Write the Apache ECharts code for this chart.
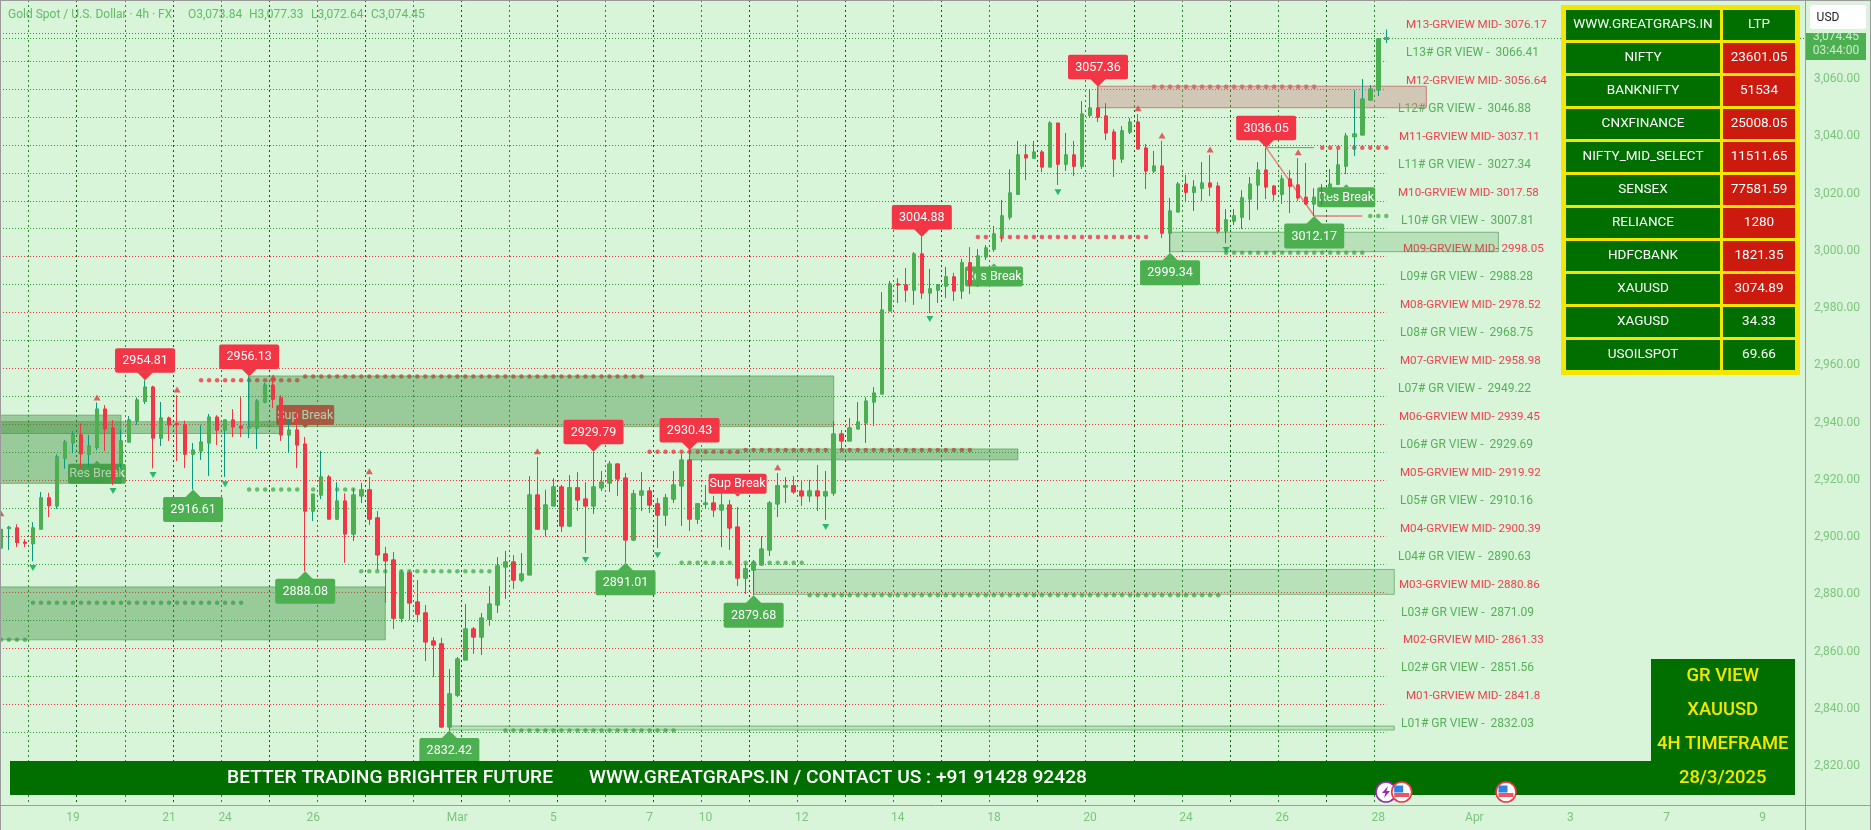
<!DOCTYPE html>
<html><head><meta charset="utf-8">
<style>html,body{margin:0;padding:0;background:#d8f5d9;overflow:hidden}#c{width:1871px;height:830px}</style>
<script src="https://cdn.jsdelivr.net/npm/echarts@6/dist/echarts.min.js"></script>
</head><body><div id="c"></div>
<script>
const candleOpen=[
2896.2,2903.1,2903.2,2898.2,2897.7,2902.8,2913.7,2910.9,2927.6,2932.9,
2935.7,2929.0,2931.4,2944.7,2938.1,2925.8,2933.2,2940.6,2947.4,2952.4,
2934.6,2941.6,2939.6,2939.2,2929.0,2930.1,2932.9,2941.9,2937.4,2940.9,
2938.8,2938.1,2938.1,2947.2,2953.1,2948.6,2935.7,2937.4,2932.5,2909.1,
2914.7,2921.0,2906.3,2912.6,2901.1,2914.4,2916.5,2906.7,2894.1,2892.0,
2871.7,2887.5,2877.3,2873.5,2863.7,2862.7,2833.7,2844.8,2857.1,2867.9,
2865.1,2871.3,2876.3,2889.6,2891.3,2885.0,2886.8,2914.7,2902.8,2910.9,
2917.5,2903.9,2917.2,2913.3,2910.9,2917.2,2918.9,2925.5,2920.6,2899.0,
2914.7,2916.1,2911.6,2907.7,2913.3,2917.9,2926.9,2906.3,2911.5,2911.9,
2909.5,2911.2,2903.5,2885.7,2888.5,2890.3,2895.5,2911.6,2917.5,2917.9,
2916.1,2914.4,2916.1,2914.4,2915.4,2936.0,2933.6,2937.8,2939.9,2947.2,
2950.0,2979.0,2988.4,2988.1,2986.3,2998.9,2985.3,2986.3,2987.7,2990.9,
2986.0,2995.8,2988.1,2997.9,3000.6,3005.5,3011.8,3019.8,3033.5,3032.4,
3034.5,3029.3,3044.6,3030.3,3033.5,3029.6,3047.4,3049.9,3047.1,3041.5,
3032.1,3041.5,3045.0,3035.9,3027.9,3029.6,3006.2,3013.6,3023.3,3020.5,
3021.9,3023.7,3022.6,3006.9,3010.4,3011.8,3018.1,3023.0,3028.2,3022.6,
3019.8,3025.1,3023.0,3018.7,3016.4,3018.3,3019.5,3023.3,3029.6,3039.9,
3040.5,3052.7,3056.2,3073.84];
const candleClose=[
2902.7,2903.4,2898.1,2897.9,2903.2,2913.7,2911.0,2928.0,2933.2,2935.7,
2929.1,2931.8,2944.7,2937.8,2920.3,2933.6,2940.9,2947.9,2952.4,2934.6,
2941.6,2939.2,2939.3,2929.0,2930.4,2933.2,2941.9,2937.4,2940.9,2938.5,
2938.1,2938.5,2947.5,2953.1,2948.2,2935.7,2937.4,2932.2,2909.1,2915.0,
2921.0,2906.3,2912.6,2901.1,2914.7,2916.5,2906.3,2893.8,2891.7,2871.7,
2887.5,2877.0,2873.1,2863.4,2862.3,2833.7,2845.2,2857.4,2867.9,2865.1,
2871.7,2876.6,2889.9,2891.3,2885.0,2887.1,2914.7,2902.8,2911.2,2917.5,
2903.9,2917.2,2913.0,2910.9,2917.5,2919.2,2925.5,2920.3,2899.0,2915.1,
2916.1,2911.2,2907.7,2913.7,2918.2,2926.9,2906.3,2911.6,2911.9,2909.5,
2911.2,2903.2,2885.7,2888.9,2891.0,2895.8,2911.9,2917.9,2917.9,2915.8,
2914.4,2916.1,2914.4,2915.8,2936.0,2933.6,2938.1,2940.2,2947.5,2950.3,
2979.3,2988.4,2988.1,2986.3,2998.9,2985.3,2986.7,2988.1,2990.9,2986.0,
2995.8,2988.1,2998.2,3001.0,3005.9,3012.2,3020.2,3033.5,3032.5,3034.5,
3029.3,3044.6,3030.3,3033.5,3029.6,3047.8,3049.9,3046.7,3041.2,3032.1,
3041.9,3045.0,3035.6,3027.9,3029.6,3006.2,3013.9,3023.3,3020.5,3022.3,
3023.7,3022.3,3006.9,3010.8,3012.2,3018.5,3023.3,3028.2,3022.3,3019.8,
3025.1,3022.6,3018.5,3016.4,3018.7,3019.8,3023.3,3030.0,3040.1,3040.8,
3053.0,3056.5,3074.0,3074.45];
const candleLow=[
2895.4,2895.5,2896.5,2896.5,2891.6,2902.8,2907.0,2909.9,2923.9,2929.3,
2924.0,2924.6,2930.4,2930.1,2918.2,2924.0,2933.2,2939.2,2946.5,2924.0,
2931.8,2933.6,2926.6,2924.1,2916.61,2926.9,2921.3,2932.2,2921.0,2935.0,
2935.0,2934.6,2930.8,2946.8,2945.1,2933.6,2929.4,2924.1,2888.08,2905.6,
2913.3,2906.3,2906.0,2891.0,2898.6,2911.9,2904.2,2888.5,2877.0,2867.9,
2870.3,2871.0,2870.3,2856.7,2851.1,2833.3,2832.42,2844.1,2857.1,2859.2,
2858.8,2869.0,2873.5,2878.4,2881.9,2884.3,2886.8,2902.8,2900.2,2910.9,
2901.8,2903.5,2909.1,2894.4,2908.1,2916.1,2915.8,2914.4,2891.01,2898.6,
2909.1,2908.4,2896.2,2903.9,2911.9,2903.9,2902.1,2904.6,2909.8,2907.0,
2896.5,2895.5,2882.9,2880.1,2879.68,2889.9,2893.4,2907.0,2911.9,2915.1,
2910.9,2912.3,2909.1,2906.0,2914.4,2930.4,2933.6,2937.8,2932.9,2938.8,
2950.0,2979.0,2981.8,2982.1,2981.1,2983.2,2978.3,2981.8,2983.5,2982.5,
2983.2,2984.9,2987.4,2996.8,2999.6,3003.1,3010.8,3019.8,3024.7,3032.4,
3027.5,3029.3,3023.0,3027.9,3026.1,3028.6,3046.7,3045.0,3038.7,3025.8,
3030.7,3040.8,3035.6,3021.6,3027.2,3004.5,2999.34,3013.6,3017.0,3013.9,
3017.4,3019.1,3005.9,3002.7,3009.0,3007.6,3010.8,3014.3,3018.1,3017.4,
3016.4,3013.2,3017.4,3016.0,3012.17,3016.0,3019.5,3023.3,3026.8,3033.1,
3040.5,3052.7,3054.1,3072.64];
const candleHigh=[
2903.5,2903.9,2904.5,2899.3,2905.2,2915.8,2915.5,2928.9,2933.9,2937.1,
2939.7,2935.7,2947.0,2946.1,2940.9,2937.4,2942.3,2948.8,2954.81,2952.9,
2947.2,2942.1,2949.6,2940.7,2932.9,2939.2,2943.0,2942.6,2941.0,2944.7,
2948.9,2956.13,2948.2,2953.9,2954.9,2949.6,2940.9,2944.4,2935.0,2915.0,
2930.1,2921.7,2919.2,2915.3,2917.0,2919.0,2921.0,2909.1,2896.6,2894.8,
2888.5,2888.5,2885.0,2876.3,2865.1,2864.8,2853.9,2858.1,2876.6,2868.6,
2873.5,2882.9,2893.0,2895.2,2893.7,2894.4,2921.3,2928.0,2916.5,2920.6,
2918.2,2921.7,2922.7,2919.2,2929.79,2923.1,2926.6,2925.8,2922.4,2916.5,
2922.7,2917.5,2913.7,2915.1,2923.1,2929.0,2930.43,2911.9,2918.2,2914.4,
2915.3,2913.0,2910.5,2890.6,2892.0,2900.4,2912.6,2922.4,2921.0,2921.3,
2919.6,2920.0,2925.2,2923.1,2940.6,2937.4,2941.6,2947.2,2948.9,2952.4,
2985.6,2989.5,2990.5,2994.0,2999.6,3004.88,2993.7,2988.4,2994.4,2992.3,
2997.2,3001.3,3000.6,3002.0,3008.7,3017.8,3028.5,3038.4,3037.2,3038.4,
3035.2,3045.3,3044.6,3041.2,3038.4,3052.3,3056.5,3057.36,3051.6,3042.5,
3043.6,3046.4,3047.8,3037.3,3034.9,3038.4,3018.5,3024.0,3026.5,3024.7,
3031.0,3033.5,3024.0,3014.6,3014.6,3021.2,3025.8,3031.0,3036.05,3023.0,
3026.5,3028.2,3032.4,3030.7,3021.9,3023.3,3028.5,3035.4,3041.2,3056.2,
3060.0,3057.9,3074.3,3077.33];

const slotCount=226;
const xTickSlots=[9,21,28,39,57,69,81,88,100,112,124,136,148,160,172,184,196,208,220];
const xTickLabels=['19','21','24','26','Mar','5','7','10','12','14','18','20','24','26','28','Apr','3','7','9'];
const yTickValues=[2820,2840,2860,2880,2900,2920,2940,2960,2980,3000,3020,3040,3060];
const dayGridSlots=[4,10,16,22,28,34,40,46,52,58,64,70,76,82,88,94,100,106,112,118,124,130,136,142,148,154,160,166,172];

const levelNames=['M13-GRVIEW MID- ','L13# GR VIEW -  ','M12-GRVIEW MID- ','L12# GR VIEW -  ','M11-GRVIEW MID- ','L11# GR VIEW -  ','M10-GRVIEW MID- ','L10# GR VIEW -  ','M09-GRVIEW MID- ','L09# GR VIEW -  ','M08-GRVIEW MID- ','L08# GR VIEW -  ','M07-GRVIEW MID- ','L07# GR VIEW -  ','M06-GRVIEW MID- ','L06# GR VIEW -  ','M05-GRVIEW MID- ','L05# GR VIEW -  ','M04-GRVIEW MID- ','L04# GR VIEW -  ','M03-GRVIEW MID- ','L03# GR VIEW -  ','M02-GRVIEW MID- ','L02# GR VIEW -  ','M01-GRVIEW MID- ','L01# GR VIEW -  '];
const levelValues=[3076.17,3066.41,3056.64,3046.88,3037.11,3027.34,3017.58,3007.81,2998.05,2988.28,2978.52,2968.75,2958.98,2949.22,2939.45,2929.69,2919.92,2910.16,2900.39,2890.63,2880.86,2871.09,2861.33,2851.56,2841.8,2832.03];
const levelTextLeft=[1406,1406,1406,1398,1399,1398,1398,1401,1403,1400,1400,1400,1400,1398,1399,1400,1400,1400,1400,1398,1399,1401,1403,1401,1406,1401];

const zoneFrom=[0,0,31,0,86,94,137,146,56];
const zoneTo=[15,35,104,48,127,174,178,187,174];
const zoneTop=[2942.6,2940.3,2956.3,2882.6,2930.8,2888.7,3057.5,3006.5,2834.0];
const zoneBottom=[2918.8,2936.2,2938.6,2864.1,2927.0,2880.0,3050.0,2999.7,2832.6];
const zoneKind=['dark','dark','dark','dark','dark','light','tan','light','light'];

const redDotFrom=[25,38,81,93,122,144,165];
const redDotTo=[37,80,92,121,143,164,173];
const redDotValue=[2954.81,2956.13,2929.79,2930.43,3004.88,3057.36,3036.05];
const greenDotFrom=[0,4,31,45,63,85,101,153,171];
const greenDotTo=[3,30,44,62,84,100,152,170,173];
const greenDotValue=[2864.1,2877.1,2916.61,2888.08,2832.42,2891.01,2879.68,2999.34,3012.17];

const upMarkSlot=[0,12,22,34,46,67,97,142,145,151,162];
const upMarkValue=[2908.3,2948.8,2951.6,2955.8,2923.0,2930.0,2924.4,3049.8,3040.3,3035.4,3034.4];
const downMarkSlot=[4,14,19,28,73,82,103,116,132,153];
const downMarkValue=[2889.2,2916.1,2921.7,2918.5,2892.0,2893.7,2903.5,2976.2,3020.5,3000.3];

const peakSlot=[18,31,74,86,115,137,158];
const peakValue=[2954.81,2956.13,2929.79,2930.43,3004.88,3057.36,3036.05];
const troughSlot=[24,38,56,78,94,146,164];
const troughValue=[2916.61,2888.08,2832.42,2891.01,2879.68,2999.34,3012.17];

const breakSlot=[12,38,124,168];
const breakValue=[2926.7,2938.1,2995.6,3023.3];
const breakText=['Res Break','Sup Break','Res Break','Res Break'];
const topBreakSlot=[92];
const topBreakValue=[2914.1];
const topBreakText=['Sup Break'];

const tableNames=['NIFTY','BANKNIFTY','CNXFINANCE','NIFTY_MID_SELECT','SENSEX','RELIANCE','HDFCBANK','XAUUSD','XAGUSD','USOILSPOT'];
const tableValues=['23601.05','51534','25008.05','11511.65','77581.59','1280','1821.35','3074.89','34.33','69.66'];
const tableRed=[1,1,1,1,1,1,1,1,0,0];
const gvLines=['GR VIEW','XAUUSD','4H TIMEFRAME','28/3/2025'];

const BG='#d8f5d9',UP='#4caf50',DOWN='#f23645',WICK='#089981',DG='#006f00',YEL='#f5e600',FONT='Roboto, sans-serif',AX='#7cc47c';
const ohlc=candleOpen.map((o,i)=>[o,candleClose[i],candleLow[i],candleHigh[i]]);
const bodies=candleOpen.map((o,i)=>{const c=candleClose[i];return [o,c,Math.min(o,c),Math.max(o,c)];});
const expand=(f,t,v)=>f.flatMap((a,k)=>{const r=[];for(let s=a;s<=t[k];s++)r.push([s,v[k]]);return r;});
const snap=v=>Math.round(v)+.5;

function dayRender(p,api){
  const c=api.coord([api.value(0),0]);
  const x=snap(c[0]-api.size([1,0])[0]/2-.5);
  const g=p.coordSys;
  return {type:'line',shape:{x1:x,y1:g.y,x2:x,y2:g.y+g.height},style:{stroke:p.dataIndex%2?'#0b5e0b':'#2a8a2a',lineWidth:1,lineDash:[2,3]}};
}
function lineRender(p,api){
  const v=api.value(1),a=api.coord([0,v]),b=api.coord([173,v]);
  const y=snap(a[1]);
  const red=levelNames[p.dataIndex][0]==='M';
  return {type:'group',children:[
   {type:'line',shape:{x1:0,y1:y,x2:b[0],y2:y},style:{stroke:red?'#f23645':'#2f9e35',lineWidth:1,lineDash:[1,2]}},
   {type:'text',style:{text:levelNames[p.dataIndex]+v,x:levelTextLeft[p.dataIndex],y:a[1]-7.3,fill:red?'#f0404e':'#56b05a',font:(red?'11.6px ':'12px ')+FONT,align:'left',verticalAlign:'middle'}}
  ]};
}
function zoneRender(p,api){
  const a=api.coord([api.value(0),api.value(2)]),b=api.coord([api.value(1),api.value(3)]);
  const k=zoneKind[p.dataIndex];
  const fill=k==='dark'?'rgba(60,140,60,0.4)':k==='light'?'rgba(60,140,60,0.2)':'rgba(197,132,126,0.4)';
  const stroke=k==='tan'?'#c87b7b':'rgba(60,140,60,0.55)';
  const x0=api.value(0)===0?-1:a[0];
  return {type:'rect',shape:{x:x0,y:a[1],width:b[0]-x0,height:b[1]-a[1]},style:{fill,stroke,lineWidth:1}};
}
function callout(x,y,up,color,text,w,h,tip,half,gap,fs){
  const pts=up?[[x-half,y+tip],[x+half,y+tip],[x,y]]:[[x-half,y-tip],[x+half,y-tip],[x,y]];
  const by=up?y+gap:y-gap-h;
  return {type:'group',children:[
    {type:'polygon',shape:{points:pts},style:{fill:color}},
    {type:'rect',shape:{x:x-w/2,y:by,width:w,height:h,r:2},style:{fill:color}},
    {type:'text',style:{text,x,y:by+h/2+.5,fill:'#fff',font:fs+'px '+FONT,align:'center',verticalAlign:'middle'}}
  ]};
}
function peakRender(p,api){const c=api.coord([api.value(0),api.value(1)]);return callout(c[0],c[1],false,DOWN,String(peakValue[p.dataIndex]),60,24.5,8,8,7.5,12.5);}
function troughRender(p,api){const c=api.coord([api.value(0),api.value(1)]);return callout(c[0],c[1],true,UP,String(troughValue[p.dataIndex]),60,25,8,8,7.5,12.5);}
function breakRender(p,api){const c=api.coord([api.value(0),api.value(1)]);const up=breakText[p.dataIndex][0]==='R';return callout(c[0],c[1],up,up?UP:DOWN,breakText[p.dataIndex],58,20,3,3,3,12.5);}
function topBreakRender(p,api){const c=api.coord([api.value(0),api.value(1)]);return callout(c[0],c[1],false,DOWN,topBreakText[p.dataIndex],58,20,3,3,3,12.5);}
function pathRender(p,api){
  const a=api.coord([api.value(0),api.value(1)]),b=api.coord([api.value(2),api.value(3)]);
  return {type:'line',shape:{x1:a[0],y1:a[1],x2:b[0],y2:b[1]},style:{stroke:['#4caf50','#e5434f','rgba(242,54,69,.6)'][p.dataIndex],lineWidth:p.dataIndex===2?1.5:1}};
}
function gtext(text,x,y,fill,font,align,z){return {type:'text',z:z||60,x,y,style:{text,fill,font,align:align||'center',verticalAlign:'middle'}};}
function grect(x,y,w,h,fill,z,r){return {type:'rect',z:z||60,shape:{x,y,width:w,height:h,r:r||0},style:{fill}};}
function gline(x1,y1,x2,y2,stroke){return {type:'line',z:60,shape:{x1,y1,x2,y2},style:{stroke,lineWidth:1}};}
function flag(cx,cy){return {type:'group',x:cx,y:cy,children:[
  {type:'circle',z:71,shape:{r:10},style:{fill:'#fff',stroke:'#f23645',lineWidth:1.6}},
  {type:'rect',z:72,shape:{x:-7.5,y:1,width:15,height:4},style:{fill:'#f0555f'}},
  {type:'rect',z:72,shape:{x:-7.5,y:-6.5,width:9,height:7},style:{fill:'#2d83e6'}}]};}

const graphics=[
 gline(0,.5,1871,.5,'#999'),gline(.5,0,.5,830,'#999'),gline(1870.5,0,1870.5,830,'#999'),
 gline(0,805.5,1871,805.5,'#72bb72'),gline(1805.5,0,1805.5,830,'#72bb72'),
 gtext('Gold Spot / U.S. Dollar · 4h · FX',8,15,'#62bb66','12px '+FONT,'left'),
 gtext('O3,073.84',188,15,'#62bb66','12px '+FONT,'left'),
 gtext('H3,077.33',249,15,'#62bb66','12px '+FONT,'left'),
 gtext('L3,072.64',311,15,'#62bb66','12px '+FONT,'left'),
 gtext('C3,074.45',371,15,'#62bb66','12px '+FONT,'left'),
 grect(1561,5,239,370,YEL),
 grect(1566,10,154,30,DG,61),grect(1723,10,72,30,DG,61),
 gtext('WWW.GREATGRAPS.IN',1643,24.5,'#fff','13.5px '+FONT,'center',62),
 gtext('LTP',1759,24.5,'#fff','13.5px '+FONT,'center',62),
 grect(10,761,1785,34,DG),grect(1651,659,144,136,DG),
 gtext('BETTER TRADING BRIGHTER FUTURE',390,778,'#fff','500 19.2px '+FONT),
 gtext('WWW.GREATGRAPS.IN / CONTACT US : +91 91428 92428',838,778,'#fff','500 19.2px '+FONT),
 {type:'group',x:1386,y:792,children:[
  {type:'circle',z:70,shape:{r:10},style:{fill:'#fff',stroke:'#9c27b0',lineWidth:1.6}},
  {type:'polygon',z:70,shape:{points:[[2,-6],[-4,1],[-.5,1],[-2,6],[4,-1],[.5,-1]]},style:{fill:'#9c27b0'}}]},
 flag(1401.7,792),flag(1506,792),
 grect(1806,33,60,27,UP),
 gtext('3,074.45',1836,37,'#cfeccf','12px '+FONT),
 gtext('03:44:00',1836,50.5,'#cfeccf','12px '+FONT),
 grect(1806,28,61,5,BG,61),
 {type:'rect',z:62,shape:{x:1809.5,y:4.5,width:57,height:25,r:3},style:{fill:'#fff',stroke:'#e8e8e8'}},
 gtext('USD',1828,17.5,'#222','12px '+FONT,'center',63)
];
tableNames.forEach((n,i)=>{
 const y=43+i*33;
 graphics.push(grect(1566,y,154,30,DG,61),grect(1723,y,72,30,tableRed[i]?'#cc1a0e':DG,61),
  gtext(n,1643,y+14.5,'#fff','13.5px '+FONT,'center',62),gtext(tableValues[i],1759,y+14.5,'#fff','13.5px '+FONT,'center',62));
});
gvLines.forEach((t,i)=>graphics.push(gtext(t,1722.7,676+i*34,YEL,'500 18.4px '+FONT,'center',62)));

const chart=echarts.init(document.getElementById('c'),null,{renderer:'canvas'});
chart.setOption({
 animation:false,backgroundColor:BG,
 grid:{left:.9,top:0,width:1801.8,height:805.5,containLabel:false},
 xAxis:{type:'category',data:Array.from({length:slotCount},(_,i)=>String(i)),boundaryGap:false,
  axisLine:{show:false},axisTick:{show:false},splitLine:{show:false},
  axisLabel:{interval:i=>xTickSlots.includes(i),formatter:(v,i)=>xTickLabels[xTickSlots.indexOf(i)]||'',color:AX,fontFamily:'Roboto',fontSize:12,margin:6,hideOverlap:false}},
 yAxis:{type:'value',position:'right',min:2806.24,max:3087.63,scale:true,
  axisLine:{show:false},axisTick:{show:false},splitLine:{show:false},
  axisLabel:{customValues:yTickValues,formatter:v=>v.toLocaleString('en-US',{minimumFractionDigits:2,maximumFractionDigits:2}),color:AX,fontFamily:'Roboto',fontSize:12,margin:11.3}},
 graphic:graphics,
 series:[
  {type:'custom',name:'dayGrid',z:1,clip:false,renderItem:dayRender,data:dayGridSlots.map(s=>[s,3000]),encode:{x:0,y:1}},
  {type:'custom',name:'levels',z:1,clip:false,renderItem:lineRender,data:levelValues.map(v=>[0,v]),encode:{x:0,y:1}},
  {type:'custom',name:'lastPrice',z:1,clip:false,renderItem:(p,api)=>{const a=api.coord([225,api.value(1)]);const y=snap(a[1]);return {type:'line',shape:{x1:0,y1:y,x2:1805,y2:y},style:{stroke:'#2f9e35',lineWidth:1,lineDash:[1,2]}};},data:[[0,candleClose[candleClose.length-1]]],encode:{x:0,y:1}},
  {type:'custom',name:'breaks',z:2,clip:false,renderItem:breakRender,data:breakSlot.map((s,i)=>[s,breakValue[i]]),encode:{x:0,y:1}},
  {type:'scatter',name:'redDots',z:2,clip:false,symbol:'circle',symbolSize:4.5,itemStyle:{color:'#f23645'},data:expand(redDotFrom,redDotTo,redDotValue)},
  {type:'scatter',name:'greenDots',z:2,clip:false,symbol:'circle',symbolSize:4.5,itemStyle:{color:'#4caf50'},data:expand(greenDotFrom,greenDotTo,greenDotValue)},
  {type:'custom',name:'zones',z:3,clip:false,renderItem:zoneRender,data:zoneFrom.map((f,i)=>[f,zoneTo[i],zoneTop[i],zoneBottom[i]]),encode:{x:[0,1],y:[2,3]}},
  {type:'custom',name:'pivotLines',z:3,clip:false,renderItem:pathRender,data:[[158,3036.05,164,3036.05],[164,3012.17,170,3012.17],[158,3036.05,164,3012.17]],encode:{x:[0,2],y:[1,3]}},
  {type:'candlestick',name:'wicks',z:4,clip:false,barWidth:4,itemStyle:{color:WICK,color0:DOWN,borderColor:WICK,borderColor0:DOWN,borderWidth:1},data:ohlc},
  {type:'candlestick',name:'bodies',z:5,clip:false,barWidth:4,itemStyle:{color:UP,color0:DOWN,borderColor:UP,borderColor0:DOWN,borderWidth:1},data:bodies},
  {type:'scatter',name:'upMarks',z:6,clip:false,symbol:'triangle',symbolSize:[7,6],itemStyle:{color:'#e0393e'},data:upMarkSlot.map((s,i)=>[s,upMarkValue[i]])},
  {type:'scatter',name:'downMarks',z:6,clip:false,symbol:'triangle',symbolRotate:180,symbolSize:[7,6],itemStyle:{color:'#00a84f'},data:downMarkSlot.map((s,i)=>[s,downMarkValue[i]])},
  {type:'custom',name:'peaks',z:7,clip:false,renderItem:peakRender,data:peakSlot.map((s,i)=>[s,peakValue[i]]),encode:{x:0,y:1}},
  {type:'custom',name:'troughs',z:7,clip:false,renderItem:troughRender,data:troughSlot.map((s,i)=>[s,troughValue[i]]),encode:{x:0,y:1}},
  {type:'custom',name:'topBreak',z:7,clip:false,renderItem:topBreakRender,data:topBreakSlot.map((s,i)=>[s,topBreakValue[i]]),encode:{x:0,y:1}}
 ]
});
</script></body></html>
